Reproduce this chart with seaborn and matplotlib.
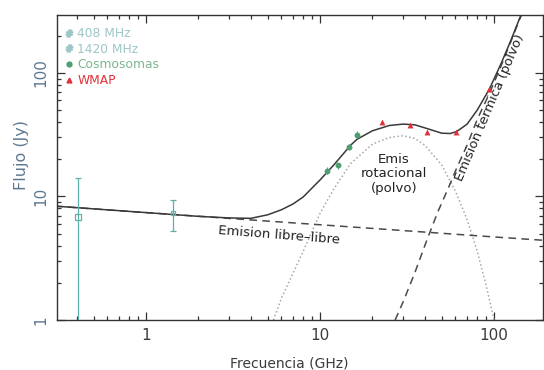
import matplotlib
matplotlib.use("Agg")
import matplotlib.pyplot as plt
from matplotlib.lines import Line2D
from matplotlib.ticker import FixedLocator, FixedFormatter, LogLocator, NullFormatter
import seaborn as sns

# ---- model components: frequency (GHz) and flux density (Jy) ----
freq_ff = [0.3, 1, 10, 100, 200]
flux_ff = [8.35, 7.4, 5.9, 4.7, 4.4]

freq_spin = [5.4, 6, 7, 8, 10, 12, 15, 20, 25, 30, 35, 40, 50, 60, 70, 80, 90, 100]
flux_spin = [1.0, 1.5, 2.4, 3.6, 7.3, 11.5, 18.5, 26.5, 30.0, 31.0, 29.5, 26.0,
             18.0, 11.0, 6.5, 3.6, 1.9, 1.0]

freq_th = [27, 30, 35, 41, 47.5, 55, 61, 70, 80, 94, 110, 125, 140, 160]
flux_th = [1.0, 1.4, 2.4, 4.4, 7.5, 12, 17, 26, 42, 68, 115, 180, 270, 420]

freq_total = [0.3, 1, 2, 3, 4, 5, 6, 7, 8, 10, 12, 15, 16.3, 20, 25, 30, 35, 41,
              50, 56, 61, 70, 80, 94, 110, 125, 140, 160]
flux_total = [8.35, 7.4, 6.9, 6.7, 6.65, 7.1, 7.8, 8.7, 9.9, 13.6, 18.0, 26.0,
              29.0, 34.0, 37.5, 38.5, 38.0, 35.5, 32.5, 32.3, 33.5, 38.5, 50.0,
              74.0, 120.0, 184.0, 275.0, 425.0]

# ---- measurements ----
freq_408 = [0.408]
flux_408 = [6.8]
err_408_lo = [6.75]
err_408_hi = [7.4]

freq_1420 = [1.42]
flux_1420 = [7.3]
err_1420 = [2.0]

freq_cosmo = [10.9, 12.7, 14.7, 16.3]
flux_cosmo = [16.2, 17.8, 25.3, 31.6]
err_cosmo = [1.0, 1.0, 1.5, 2.0]

freq_wmap = [22.8, 33.0, 40.9, 60.8, 93.5]
flux_wmap = [40.0, 38.0, 33.0, 33.5, 74.0]

x_ticks = [1, 10, 100]
x_tick_labels = ["1", "10", "100"]
y_ticks = [1, 10, 100]
y_tick_labels = ["1", "10", "100"]

legend_labels = ["408 MHz", "1420 MHz", "Cosmosomas", "WMAP"]

# ---- colours ----
c_line = "#3a3a3a"
c_dash = "#4a4a4a"
c_dot = "#a8a8a8"
c_radio = "#5fb0aa"
c_radio_txt = "#9cc6c8"
c_cosmo = "#4f9e72"
c_cosmo_txt = "#7cb68e"
c_wmap = "#e0303a"
c_axis_lbl = "#5e7892"

sns.set_theme(style="ticks")
plt.rcParams["font.family"] = ["DejaVu Sans"]

fig = plt.figure(figsize=(5.44, 3.70), dpi=100)
ax = fig.add_axes([57 / 544, 50 / 370, 486 / 544, 305 / 370])
ax.set_xscale("log")
ax.set_yscale("log")

# model curves
sns.lineplot(x=freq_spin, y=flux_spin, ax=ax, color=c_dot, linewidth=1.1,
             linestyle=(0, (1, 1.6)), sort=True, estimator=None)
sns.lineplot(x=freq_ff, y=flux_ff, ax=ax, color=c_dash, linewidth=1.1,
             linestyle=(0, (5, 3.5)), sort=True, estimator=None)
sns.lineplot(x=freq_th, y=flux_th, ax=ax, color=c_dash, linewidth=1.1,
             linestyle=(0, (5, 3.5)), sort=True, estimator=None)
sns.lineplot(x=freq_total, y=flux_total, ax=ax, color=c_line, linewidth=1.1,
             sort=True, estimator=None)

# measurements
ax.errorbar(freq_408, flux_408, yerr=[err_408_lo, err_408_hi], fmt="s",
            mfc="none", mec=c_radio, ecolor=c_radio, ms=5, mew=0.9,
            elinewidth=0.9, capsize=2.5, zorder=5)
ax.errorbar(freq_1420, flux_1420, yerr=err_1420, fmt="s", mfc="none",
            mec=c_radio, ecolor=c_radio, ms=3, mew=0.9, elinewidth=0.9,
            capsize=2.5, zorder=5)
ax.errorbar(freq_cosmo, flux_cosmo, yerr=err_cosmo, fmt="none", ecolor=c_cosmo,
            elinewidth=0.8, zorder=5)
sns.scatterplot(x=freq_cosmo, y=flux_cosmo, ax=ax, color=c_cosmo, marker="o",
                s=18, linewidth=0, zorder=6)
sns.scatterplot(x=freq_wmap, y=flux_wmap, ax=ax, color=c_wmap, marker="^",
                s=18, linewidth=0, zorder=6)

# axis limits and ticks
ax.set_xlim(0.308, 191)
ax.set_ylim(1.0, 294)
ax.xaxis.set_major_locator(FixedLocator(x_ticks))
ax.xaxis.set_major_formatter(FixedFormatter(x_tick_labels))
ax.yaxis.set_major_locator(FixedLocator(y_ticks))
ax.yaxis.set_major_formatter(FixedFormatter(y_tick_labels))
ax.xaxis.set_minor_locator(LogLocator(base=10, subs=range(2, 10), numticks=20))
ax.yaxis.set_minor_locator(LogLocator(base=10, subs=range(2, 10), numticks=20))
ax.xaxis.set_minor_formatter(NullFormatter())
ax.yaxis.set_minor_formatter(NullFormatter())

ax.tick_params(which="both", direction="in", top=True, right=True,
               color="#333333", width=0.9)
ax.tick_params(which="major", length=6)
ax.tick_params(which="minor", length=3)
ax.tick_params(axis="x", labelsize=11, labelcolor="#3a3a3a", pad=6)
ax.tick_params(axis="y", labelsize=11, labelcolor=c_axis_lbl, pad=6)
for lbl in ax.get_yticklabels():
    lbl.set_rotation(90)
    lbl.set_va("center")

for sp in ax.spines.values():
    sp.set_color("#333333")
    sp.set_linewidth(1.0)

ax.set_xlabel("Frecuencia (GHz)", fontsize=10, color="#3a3a3a")
ax.set_ylabel("Flujo (Jy)", fontsize=11.5, color=c_axis_lbl)
ax.xaxis.set_label_coords(0.477, -0.121)
ax.yaxis.set_label_coords(-0.058, 0.54)

# component labels
ax.text(5.8, 4.84, "Emision libre\u2013libre", fontsize=9.5, rotation=-4.5,
        ha="center", va="center", color="#222222")
ax.text(26.6, 15.3, "Emis\nrotacional\n(polvo)", fontsize=9.5, ha="center",
        va="center", color="#222222", linespacing=1.15)
ax.text(95, 52, "Emision termica (polvo)", fontsize=9.5, rotation=67,
        ha="center", va="center", color="#222222", rotation_mode="anchor")

# legend
handles = [
    Line2D([], [], marker="$\\#$", color=c_radio_txt, linestyle="none", ms=5),
    Line2D([], [], marker="$\\#$", color=c_radio_txt, linestyle="none", ms=5),
    Line2D([], [], marker="o", color=c_cosmo, linestyle="none", ms=3.5),
    Line2D([], [], marker="^", color=c_wmap, linestyle="none", ms=3.5),
]
leg = ax.legend(handles, legend_labels, loc="upper left",
                bbox_to_anchor=(0.0, 0.985), frameon=False, fontsize=8.8,
                handlelength=0.8, handletextpad=0.25, labelspacing=0.22,
                borderaxespad=0.2)
for txt, col in zip(leg.get_texts(),
                    [c_radio_txt, c_radio_txt, c_cosmo_txt, c_wmap]):
    txt.set_color(col)

fig.savefig("out.png", dpi=100, facecolor="white")
